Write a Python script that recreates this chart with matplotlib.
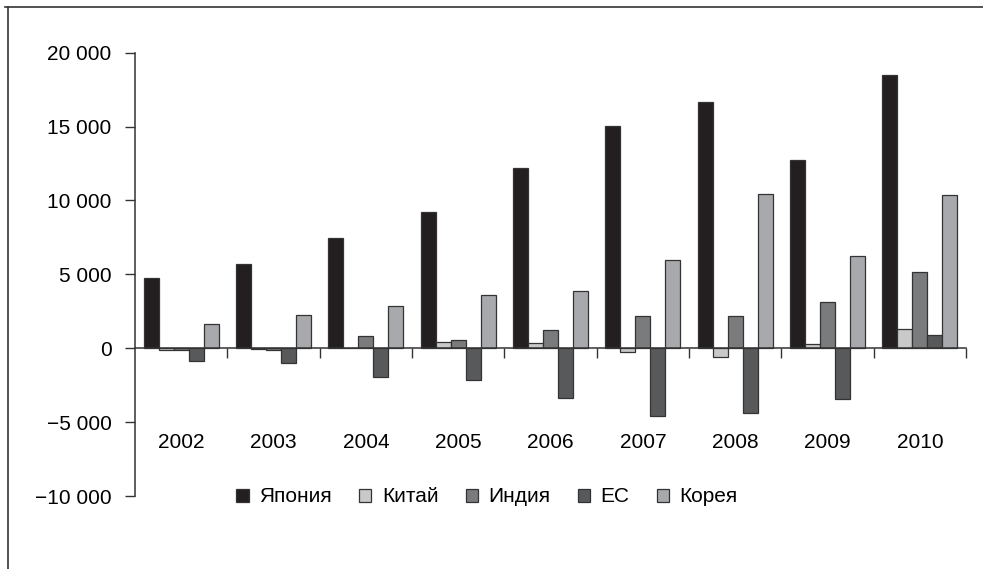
import numpy as np
import matplotlib.pyplot as plt
from matplotlib.lines import Line2D
from matplotlib.ticker import FuncFormatter, FixedLocator

plt.rcParams['font.family'] = ['Liberation Sans', 'DejaVu Sans']

years = ['2002', '2003', '2004', '2005', '2006', '2007', '2008', '2009', '2010']
series = ['Япония', 'Китай', 'Индия', 'ЕС', 'Корея']

japan = [4740, 5670, 7490, 9200, 12210, 15050, 16670, 12730, 18510]
china = [-150, -30, 0, 400, 360, -270, -590, 290, 1320]
india = [-100, -100, 850, 560, 1260, 2180, 2160, 3100, 5130]
eu = [-840, -990, -1920, -2160, -3370, -4570, -4390, -3440, 900]
korea = [1620, 2230, 2870, 3620, 3870, 5940, 10430, 6210, 10360]

colors = ['#231f20', '#c9c9ca', '#7a7b7d', '#58595b', '#a8a9ac']

fig = plt.figure(figsize=(9.83, 5.69), dpi=100)
ax = fig.add_axes([135/983, 1 - 496/569, (966-135)/983, (496-52.7)/569])

x = np.arange(len(years))
w = 0.163
for i, (name, vals) in enumerate(zip(series, [japan, china, india, eu, korea])):
    ax.bar(x + (i - 2) * w, vals, w, color=colors[i], edgecolor='#333333',
           linewidth=0.9, label=name, zorder=2)

ax.set_xlim(-0.5, len(years) - 0.5)
ax.set_ylim(-10000, 20000)
ax.set_yticks(np.arange(-10000, 20001, 5000))
ax.yaxis.set_major_formatter(FuncFormatter(
    lambda v, p: f"{v:,.0f}".replace(",", " ").replace("-", "−")))
ax.tick_params(axis='y', length=7, width=1, pad=10, labelsize=15, color='#333333')

ax.spines['bottom'].set_position(('data', 0))
ax.spines['top'].set_visible(False)
ax.spines['right'].set_visible(False)
for s in ['left', 'bottom']:
    ax.spines[s].set_color('#333333')
    ax.spines[s].set_linewidth(1.1)
ax.set_xticks(x)
ax.set_xticklabels(years)
ax.xaxis.set_minor_locator(FixedLocator(np.arange(0.5, len(years), 1.0)))
ax.tick_params(axis='x', which='major', length=0, pad=61, labelsize=15)
ax.tick_params(axis='x', which='minor', length=7, width=1, color='#333333')

fig.legend(loc='center', bbox_to_anchor=(487/983, 1 - 497/569), ncol=5,
           frameon=False, fontsize=15, handlelength=0.6, handleheight=0.6,
           handletextpad=0.5, columnspacing=1.3, borderpad=0)

# page frame lines (top and left)
fig.add_artist(Line2D([5/983, 1], [1 - 7/569, 1 - 7/569], color='#333333', lw=1.2))
fig.add_artist(Line2D([8/983, 8/983], [0, 1 - 7/569], color='#333333', lw=1.2))

fig.savefig('out.png', dpi=100)
